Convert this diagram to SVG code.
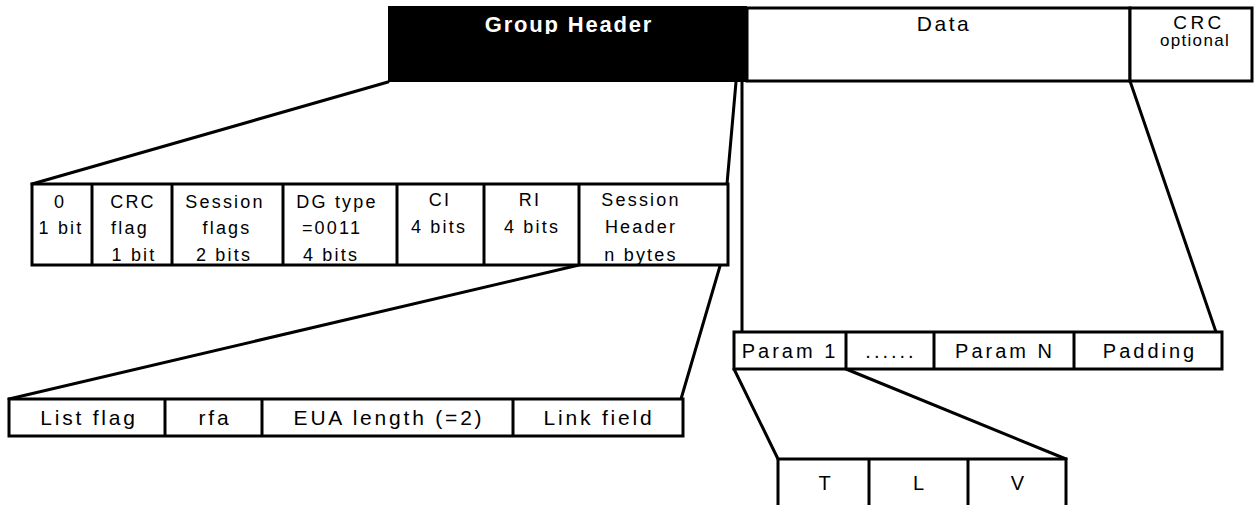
<svg xmlns="http://www.w3.org/2000/svg" width="1258" height="505" viewBox="0 0 1258 505">
  <defs>
    <style>
      .box{fill:#fff;stroke:#000;stroke-width:3}
      .frame{fill:none;stroke:#000;stroke-width:3}
      .sep{stroke:#000;stroke-width:3}
      .con{fill:none;stroke:#000;stroke-width:3;stroke-linecap:round}
      text{font-family:"Liberation Sans",Arial,Helvetica,sans-serif;fill:#000;text-anchor:middle}
      .hdr{font-size:22px;font-weight:bold;letter-spacing:1.8px;fill:#fff}
      .top{font-size:21px;letter-spacing:2.5px}
      .crc{font-size:19px;letter-spacing:3.5px}
      .small{font-size:17px;letter-spacing:1.3px}
      .f1{font-size:18px;letter-spacing:2.2px}
      .f2{font-size:21px;letter-spacing:2.8px}
      .f3{font-size:20px;letter-spacing:3px}
    </style>
    <clipPath id="hdrClip"><rect x="388" y="6" width="359" height="28"/></clipPath>
  </defs>

  <!-- connectors (expansion lines between levels) -->
  <g id="connectors">
    <path class="con" d="M388,82 L32,184"/>
    <path class="con" d="M736,82 L727,184"/>
    <path class="con" d="M579,265 L9,399"/>
    <path class="con" d="M720,266 L681,399"/>
    <path class="con" d="M742,81 L742,332"/>
    <path class="con" d="M1130,81 L1216,332"/>
    <path class="con" d="M734,369 L778,459"/>
    <path class="con" d="M846,369 L1066,459"/>
  </g>

  <!-- top-level data group -->
  <g id="group-header">
    <rect x="388" y="6" width="359" height="76" fill="#000"/>
    <text class="hdr" x="569" y="32" clip-path="url(#hdrClip)">Group Header</text>
  </g>
  <g id="data">
    <rect class="box" x="747" y="8" width="383" height="73"/>
    <text class="top" x="944" y="31">Data</text>
  </g>
  <g id="crc">
    <rect class="box" x="1130" y="8" width="122" height="73"/>
    <text class="crc" x="1199" y="29">CRC</text>
    <text class="small" x="1195" y="46">optional</text>
  </g>

  <!-- group header fields -->
  <g id="header-fields">
    <rect x="32" y="184" width="696" height="81" fill="#fff"/>
    <g class="f1">
      <text x="60" y="208">0</text>
      <text x="61" y="234">1 bit</text>
      <text x="133" y="208">CRC</text>
      <text x="130" y="234">flag</text>
      <text x="134" y="261">1 bit</text>
      <text x="225" y="208">Session</text>
      <text x="227" y="234">flags</text>
      <text x="224" y="261">2 bits</text>
      <text x="337" y="208">DG type</text>
      <text x="332" y="234">=0011</text>
      <text x="331" y="261">4 bits</text>
      <text x="440" y="206">CI</text>
      <text x="439" y="233">4 bits</text>
      <text x="530" y="206">RI</text>
      <text x="532" y="233">4 bits</text>
      <text x="641" y="206">Session</text>
      <text x="641" y="233">Header</text>
      <text x="641" y="261">n bytes</text>
    </g>
    <rect class="frame" x="32" y="184" width="696" height="81"/>
    <line class="sep" x1="92" y1="184" x2="92" y2="265"/>
    <line class="sep" x1="172" y1="184" x2="172" y2="265"/>
    <line class="sep" x1="283" y1="184" x2="283" y2="265"/>
    <line class="sep" x1="397" y1="184" x2="397" y2="265"/>
    <line class="sep" x1="484" y1="184" x2="484" y2="265"/>
    <line class="sep" x1="579" y1="184" x2="579" y2="265"/>
  </g>

  <!-- session header fields -->
  <g id="session-header-fields">
    <rect class="box" x="9" y="399" width="674" height="37"/>
    <line class="sep" x1="165" y1="399" x2="165" y2="436"/>
    <line class="sep" x1="262" y1="399" x2="262" y2="436"/>
    <line class="sep" x1="513" y1="399" x2="513" y2="436"/>
    <g class="f2">
      <text x="89" y="425">List flag</text>
      <text x="215" y="425">rfa</text>
      <text x="389" y="425">EUA length (=2)</text>
      <text x="599" y="425">Link field</text>
    </g>
  </g>

  <!-- data parameters -->
  <g id="data-params">
    <rect class="box" x="734" y="332" width="488" height="37"/>
    <line class="sep" x1="846" y1="332" x2="846" y2="369"/>
    <line class="sep" x1="934" y1="332" x2="934" y2="369"/>
    <line class="sep" x1="1074" y1="332" x2="1074" y2="369"/>
    <g class="f3">
      <text x="790" y="358">Param 1</text>
      <text x="891" y="358">......</text>
      <text x="1005" y="358">Param N</text>
      <text x="1150" y="358">Padding</text>
    </g>
  </g>

  <!-- type/length/value breakdown -->
  <g id="tlv">
    <rect class="box" x="778" y="459" width="288" height="50"/>
    <line class="sep" x1="869" y1="459" x2="869" y2="505"/>
    <line class="sep" x1="968" y1="459" x2="968" y2="505"/>
    <g class="f3">
      <text x="826" y="490">T</text>
      <text x="920" y="490">L</text>
      <text x="1019" y="490">V</text>
    </g>
  </g>
</svg>
